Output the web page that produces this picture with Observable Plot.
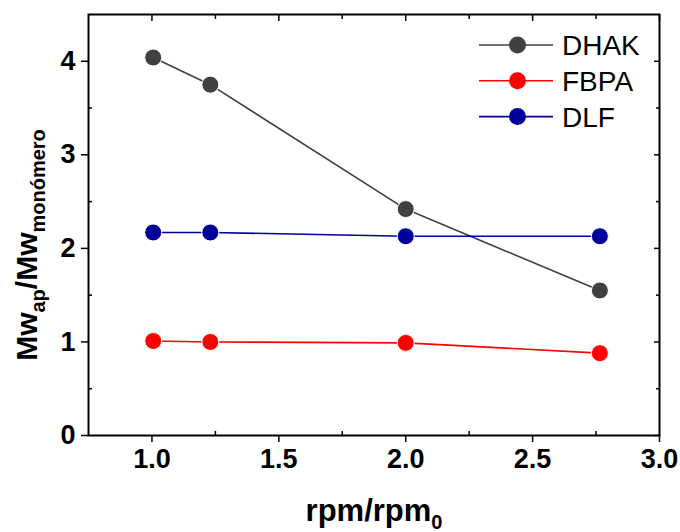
<!DOCTYPE html>
<html><head><meta charset="utf-8">
<script src="https://cdn.jsdelivr.net/npm/d3@7"></script>
<script src="https://cdn.jsdelivr.net/npm/@observablehq/plot@0.6"></script>
<style>body{margin:0;background:#fff}</style>
</head><body><div id="chart"></div>
<script>
const rpm = [1.005, 1.23, 2.0, 2.765];
const seriesNames = ["DHAK", "FBPA", "DLF"];
const dhak = [4.04, 3.75, 2.42, 1.55];
const fbpa = [1.01, 1.0, 0.99, 0.88];
const dlf = [2.17, 2.17, 2.13, 2.13];
const colors = ["#404040", "#ff0000", "#000099"];
const xTicks = [1.0, 1.5, 2.0, 2.5, 3.0];
const xMinor = [1.25, 1.75, 2.25, 2.75];
const yTicks = [0, 1, 2, 3, 4];
const yMinor = [0.5, 1.5, 2.5, 3.5];

const valuesBySeries = [dhak, fbpa, dlf];
const data = [];
seriesNames.forEach((s, i) => rpm.forEach((x, j) => data.push({series: s, x, y: valuesBySeries[i][j]})));

const W = 680, H = 532;
const font = "'Liberation Sans', Arial, sans-serif";
const plot = Plot.plot({
  width: W, height: H,
  marginLeft: 88, marginRight: 21, marginTop: 14, marginBottom: 97,
  style: {fontFamily: font, fontSize: "27px", fontWeight: "bold", color: "#000", background: "#fff"},
  x: {domain: [0.75, 3.0]},
  y: {domain: [0, 4.5]},
  color: {domain: seriesNames, range: colors},
  marks: [
    Plot.axisX({anchor: "bottom", ticks: xTicks, tickSize: 7, tickPadding: 6, tickFormat: d => d.toFixed(1), label: null, strokeWidth: 1.5}),
    Plot.axisX({anchor: "bottom", ticks: xMinor, tickSize: -4, text: null, label: null, strokeWidth: 1.5}),
    Plot.axisX({anchor: "top", ticks: xTicks, tickSize: -6, text: null, label: null, strokeWidth: 1.5}),
    Plot.axisX({anchor: "top", ticks: xMinor, tickSize: -4, text: null, label: null, strokeWidth: 1.5}),
    Plot.axisY({anchor: "left", ticks: yTicks, tickSize: 7, tickPadding: 6, tickFormat: d => String(d), label: null, strokeWidth: 1.5}),
    Plot.axisY({anchor: "left", ticks: yMinor, tickSize: -4, text: null, label: null, strokeWidth: 1.5}),
    Plot.axisY({anchor: "right", ticks: yTicks, tickSize: -6, text: null, label: null, strokeWidth: 1.5}),
    Plot.axisY({anchor: "right", ticks: yMinor, tickSize: -4, text: null, label: null, strokeWidth: 1.5}),
    Plot.frame({stroke: "#000", strokeWidth: 2}),
    Plot.line(data, {x: "x", y: "y", z: "series", stroke: "series", strokeWidth: 1.6}),
    Plot.dot(data, {x: "x", y: "y", fill: "series", r: 8.5, stroke: "#fff", strokeWidth: 1})
  ]
});
document.getElementById("chart").appendChild(plot);

const svg = d3.select(plot);
// y axis title
const yt = svg.append("text")
  .attr("transform", "translate(37,245) rotate(-90)")
  .attr("text-anchor", "middle")
  .attr("font-family", font).attr("font-weight", "bold").attr("font-size", 30).attr("fill", "#000");
yt.append("tspan").text("Mw");
yt.append("tspan").attr("font-size", 20).attr("dy", 8).text("ap");
yt.append("tspan").attr("dy", -8).text("/Mw");
yt.append("tspan").attr("font-size", 20).attr("dy", 8).text("monómero");

// x axis title
const xt = svg.append("text")
  .attr("x", 374).attr("y", 521)
  .attr("text-anchor", "middle")
  .attr("font-family", font).attr("font-weight", "bold").attr("font-size", 31).attr("fill", "#000");
xt.append("tspan").text("rpm/rpm");
xt.append("tspan").attr("font-size", 20).attr("dy", 8).text("0");

// legend
const lg = svg.append("g");
seriesNames.forEach((s, i) => {
  const y = 45 + i * 35.8;
  lg.append("line").attr("x1", 479).attr("x2", 553).attr("y1", y).attr("y2", y)
    .attr("stroke", colors[i]).attr("stroke-width", 1.6);
  lg.append("circle").attr("cx", 517.5).attr("cy", y).attr("r", 8.5).attr("fill", colors[i]);
  lg.append("text").attr("x", 562).attr("y", y).attr("dy", "0.36em")
    .attr("text-anchor", "start").attr("font-weight", "normal")
    .attr("font-family", font).attr("font-size", 28).attr("fill", "#000").text(s);
});
</script>
</body></html>
